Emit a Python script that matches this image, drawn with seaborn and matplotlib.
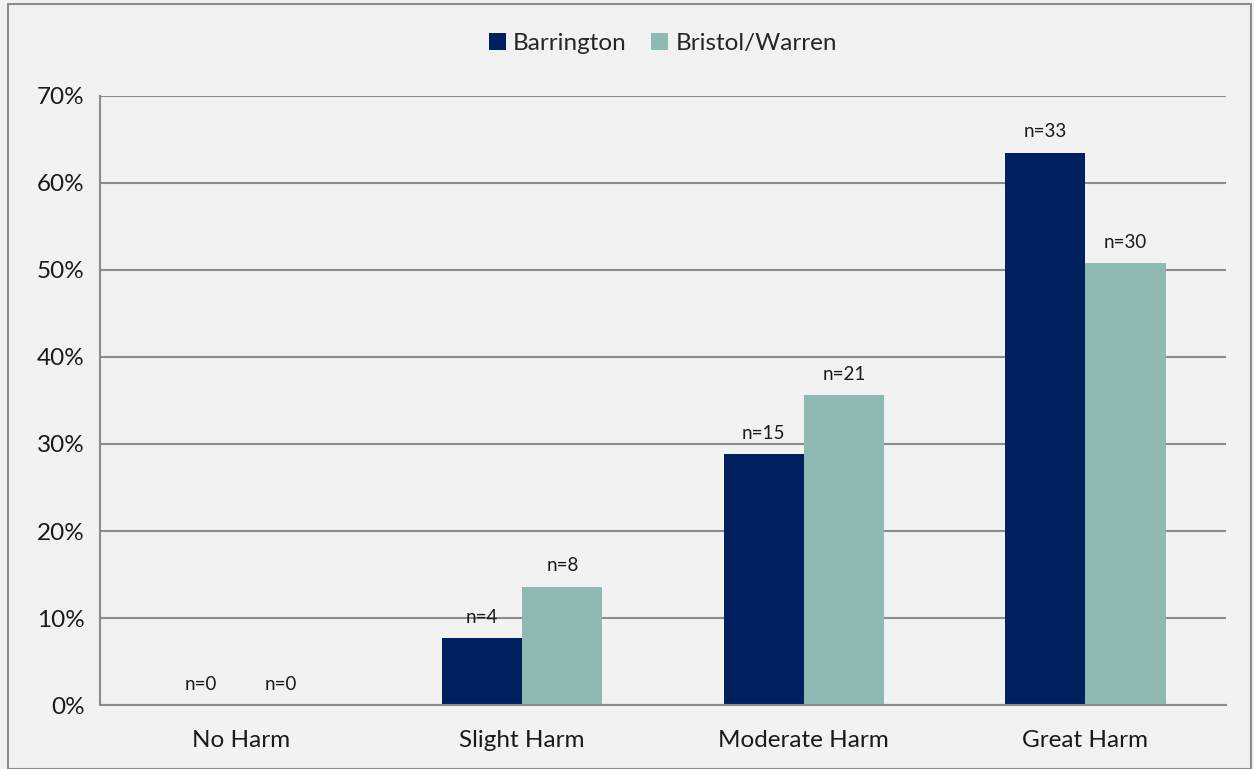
import pandas as pd
import matplotlib.pyplot as plt
import matplotlib.ticker as mticker
import seaborn as sns

sns.set_style("white")
plt.rcParams["font.family"] = ["Lato", "DejaVu Sans"]

# data
categories = ["No Harm", "Slight Harm", "Moderate Harm", "Great Harm"]
barrington_pct = [0.0, 7.7, 28.8, 63.5]
bristol_pct = [0.0, 13.6, 35.6, 50.8]
barrington_n = [0, 4, 15, 33]
bristol_n = [0, 8, 21, 30]
groups = ["Barrington", "Bristol/Warren"]
colors = ["#002060", "#8FBAB4"]

data = pd.DataFrame({
    "Category": categories * 2,
    "Group": [groups[0]] * 4 + [groups[1]] * 4,
    "Percent": barrington_pct + bristol_pct,
    "n": barrington_n + bristol_n,
})

bg = "#F2F2F2"
fig = plt.figure(figsize=(12.54, 7.69), dpi=100, facecolor=bg)
ax = fig.add_axes([0.0797, 0.0832, 0.898, 0.792])
ax.set_facecolor(bg)

sns.barplot(data=data, x="Category", y="Percent", hue="Group", order=categories,
            hue_order=groups, palette=colors, width=0.57, gap=0, saturation=1,
            linewidth=0, ax=ax)

# n= labels above each bar
for container, g in zip(ax.containers, groups):
    sub = data[data["Group"] == g].set_index("Category").loc[categories]
    labels = [f"n={v}" for v in sub["n"]]
    ax.bar_label(container, labels=labels, padding=9, fontsize=13.5, color="#1a1a1a")

ax.set_ylim(0, 70)
ax.set_xlim(-0.5, 3.5)
ax.yaxis.set_major_locator(mticker.MultipleLocator(10))
ax.yaxis.set_major_formatter(mticker.FuncFormatter(lambda v, p: f"{v:.0f}%"))
ax.grid(axis="y", color="#8C8C8C", linewidth=1.5)
ax.set_axisbelow(True)
ax.set_xlabel("")
ax.set_ylabel("")

for s in ["top", "right"]:
    ax.spines[s].set_visible(False)
for s in ["left", "bottom"]:
    ax.spines[s].set_color("#8C8C8C")
    ax.spines[s].set_linewidth(1.5)

ax.tick_params(axis="y", length=7, width=1.5, color="#8C8C8C", labelsize=17.5, pad=4)
ax.tick_params(axis="x", which="major", length=0, labelsize=17.5, pad=18)
ax.set_xticks([-0.5, 0.5, 1.5, 2.5, 3.5], minor=True)
ax.tick_params(axis="x", which="minor", length=7, width=1.5, color="#8C8C8C")
for lab in ax.get_xticklabels() + ax.get_yticklabels():
    lab.set_color("#1a1a1a")

leg = ax.legend(loc="upper center", bbox_to_anchor=(0.5, 1.14), ncol=2, frameon=False,
                fontsize=17.5, handlelength=0.7, handleheight=0.7, handletextpad=0.3,
                columnspacing=1.0)

# gray border around the figure
fig.patches.append(plt.Rectangle((0.006, 0.0), 0.992, 0.995, transform=fig.transFigure,
                                 fill=False, edgecolor="#8C8C8C", linewidth=1.5))

fig.savefig("out.png", dpi=100, facecolor=bg)
